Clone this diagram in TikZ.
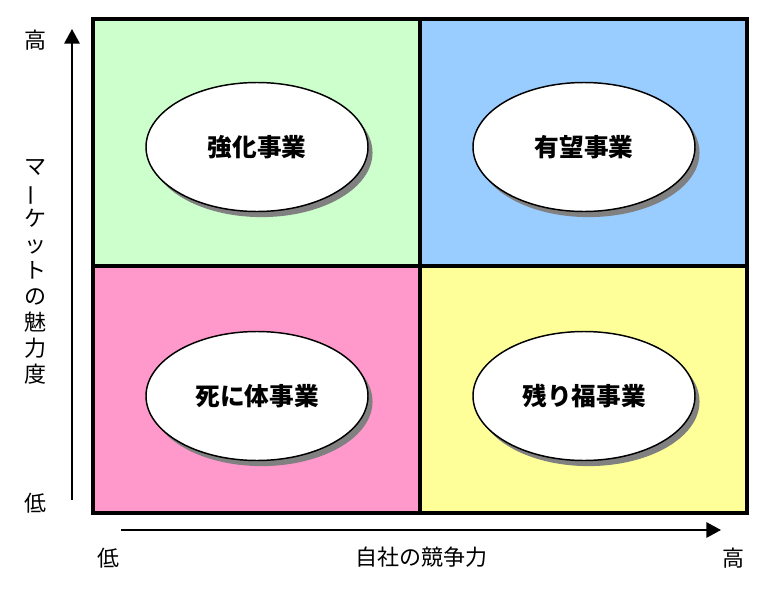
\documentclass[tikz,border=0pt]{standalone}
\usepackage{fontspec}
\setmainfont{Noto Sans CJK JP}
\usetikzlibrary{shapes.geometric, shadows, arrows.meta}

\definecolor{qgreen}{HTML}{CCFFCC}
\definecolor{qblue}{HTML}{99CCFF}
\definecolor{qpink}{HTML}{FF99CC}
\definecolor{qyellow}{HTML}{FFFF99}

\tikzset{
	quad/.style={draw, line width=2.4pt, minimum width=245.25pt, minimum height=185.25pt, inner sep=0pt},
	biz/.style={ellipse, draw, line width=1.1pt, fill=white, minimum width=166.5pt, minimum height=96.75pt, inner sep=0pt,
		drop shadow={shadow xshift=3.4pt, shadow yshift=-4.2pt, fill=black!50, opacity=1},
		font=\fontsize{18.5}{21}\selectfont\bfseries},
	axis/.style={line width=1.6pt, -{Triangle[length=11pt, width=11.5pt]}},
	lbl/.style={font=\fontsize{16.5}{19.5}\selectfont, inner sep=0pt}
}

\begin{document}
\begin{tikzpicture}[x=0.75pt, y=-0.75pt]
	\useasboundingbox (0,0) rectangle (769,593);
	
	\node[quad, fill=qgreen] (q1) at (256.5,142.5) {};
	\node[quad, fill=qblue] (q2) at (583.5,142.5) {};
	\node[quad, fill=qpink] (q3) at (256.5,389.5) {};
	\node[quad, fill=qyellow] (q4) at (583.5,389.5) {};
	
	\node[biz] (kyoka) at (257,147) {\raisebox{-2pt}{強化事業}};
	\node[biz] (yubo) at (584,147) {\raisebox{-2pt}{有望事業}};
	\node[biz] (shini) at (257,396) {\raisebox{-1pt}{死に体事業}};
	\node[biz] (nokori) at (584,396) {\raisebox{-1pt}{残り福事業}};
	
	\coordinate (ylo) at (72,500);
	\coordinate (yhi) at (72,29);
	\coordinate (xlo) at (121,530);
	\coordinate (xhi) at (721,530);
	\draw[axis] (ylo) -- (yhi);
	\draw[axis] (xlo) -- (xhi);
	
	\node[lbl] (yhigh) at (35,40) {高};
	\node[lbl, align=center] (ytitle) at (35,272) {マ\\\rotatebox[origin=c]{90}{ー}\\ケ\\ッ\\ト\\の\\魅\\力\\度};
	\node[lbl] (ylow) at (35,503) {低};
	\node[lbl] (xlow) at (108,558) {低};
	\node[lbl] (xtitle) at (421,557) {自社の競争力};
	\node[lbl] (xhigh) at (733,558) {高};
\end{tikzpicture}
\end{document}
